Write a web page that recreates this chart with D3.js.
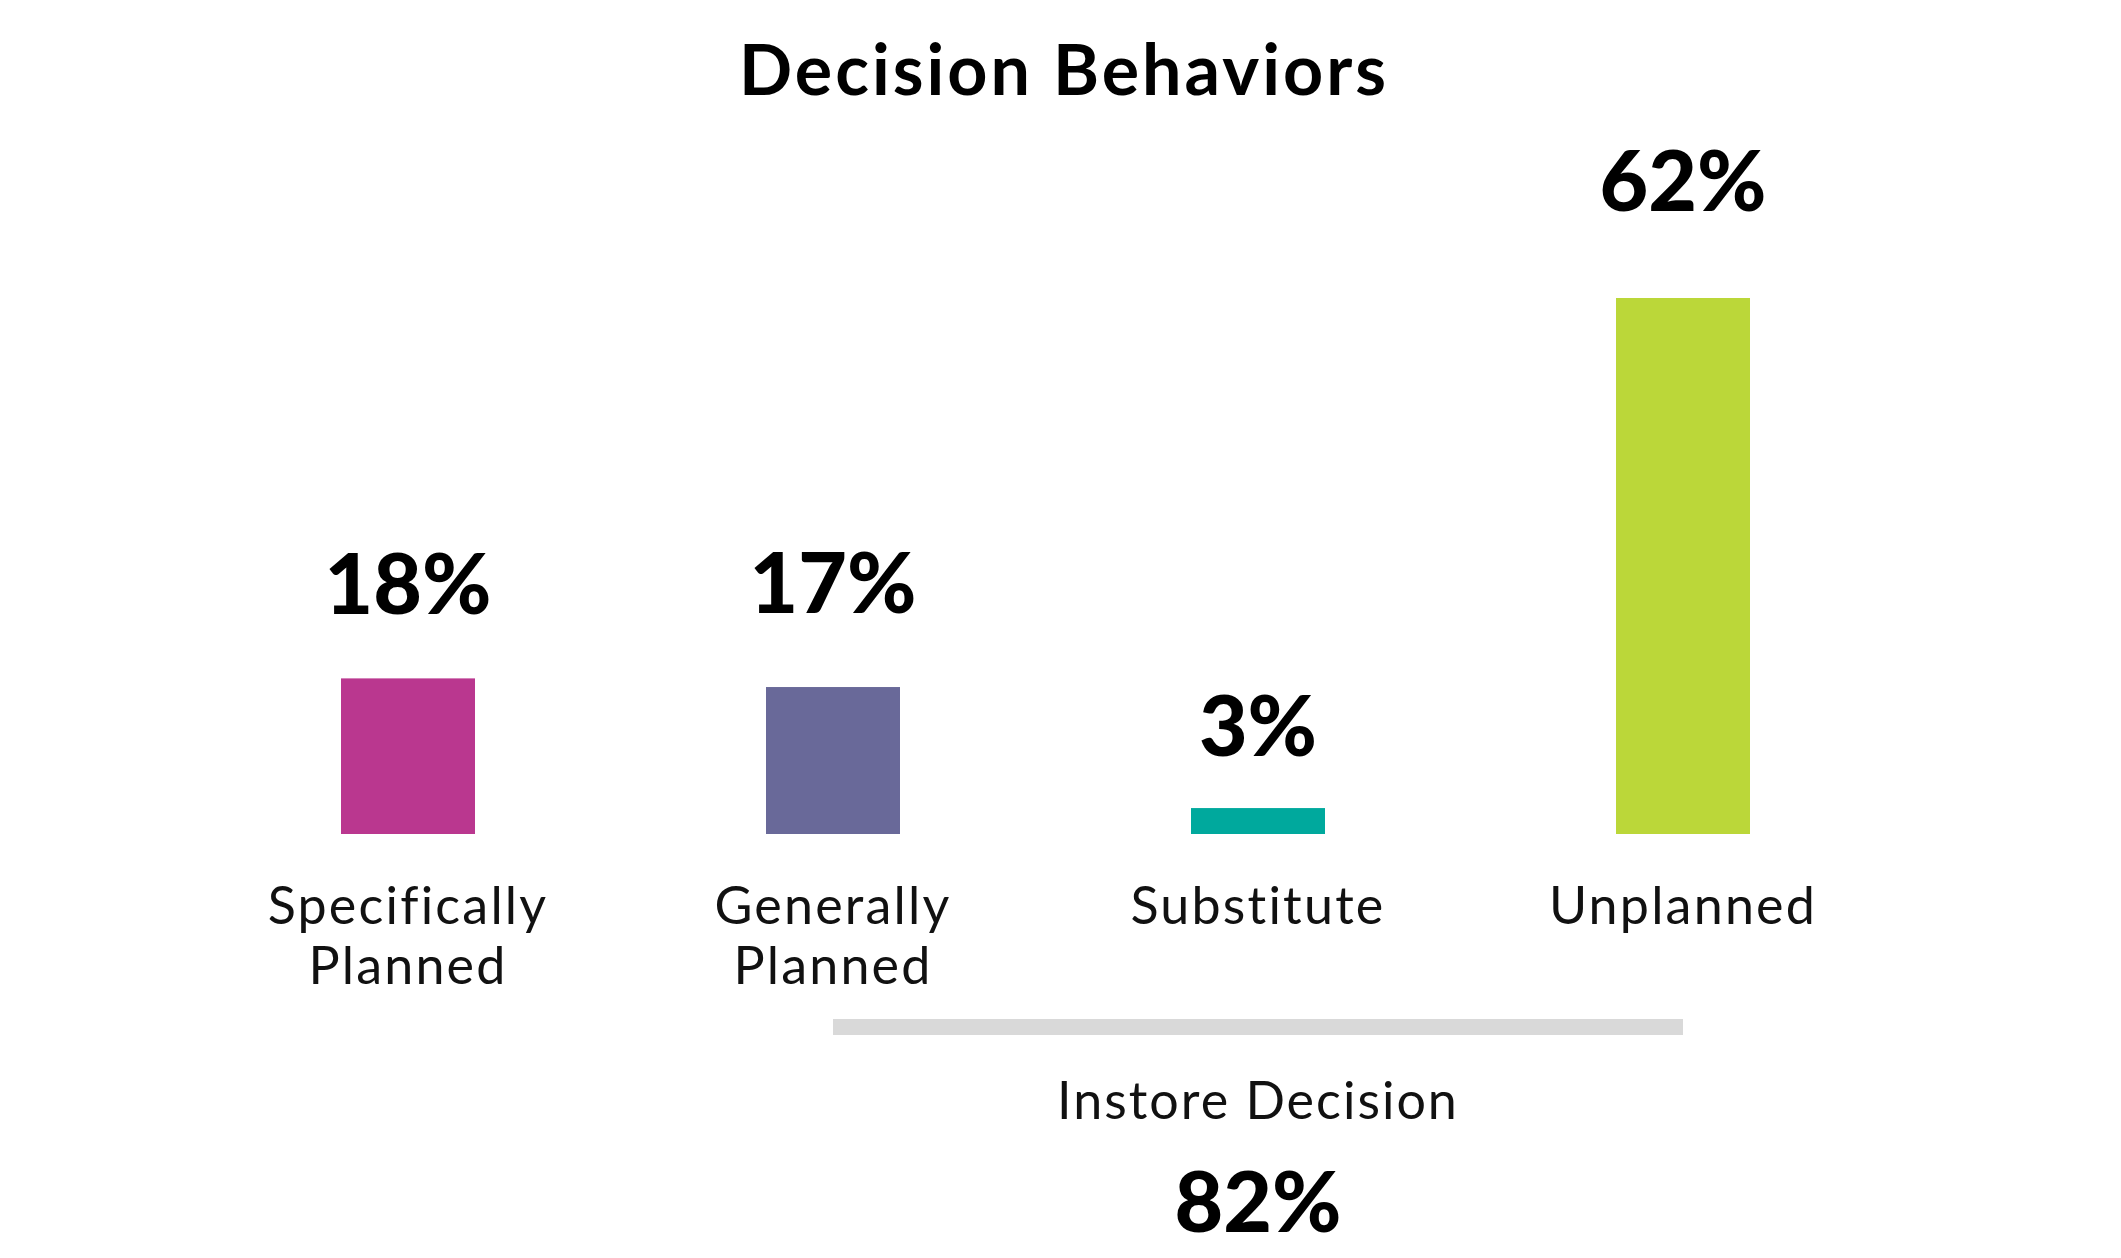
<!DOCTYPE html>
<html>
<head>
<meta charset="utf-8">
<script src="https://cdn.jsdelivr.net/npm/d3@7"></script>
<style>
  html, body { margin: 0; padding: 0; background: #fff; }
</style>
</head>
<body>
<div id="chart"></div>
<script>
// data
const categories = ["Specifically Planned", "Generally Planned", "Substitute", "Unplanned"];
const labelLines = [["Specifically", "Planned"], ["Generally", "Planned"], ["Substitute"], ["Unplanned"]];
const values = [18, 17, 3, 62];
const barColors = ["#BA378F", "#696999", "#00A99D", "#BBD739"];
const groupCategories = ["Generally Planned", "Substitute", "Unplanned"];
const groupLabel = "Instore Decision";
const groupValue = 82;
const title = "Decision Behaviors";

const WIDTH = 2121, HEIGHT = 1258;
const FONT = "Lato, 'Open Sans', sans-serif";
// space between a value label's baseline and the top of its bar
const LABEL_GAP = [64, 74, 52, 87];

const svg = d3.select("#chart")
              .append("svg")
                .attr("width", WIDTH)
                .attr("height", HEIGHT);

// x: bar centres, y: bar heights
const x = d3.scalePoint()
            .domain(categories)
            .range([408, 1683]);
const y = d3.scaleLinear()
            .domain([0, 62])
            .range([834, 298]);
const BAR_W = 134;

svg.append("text")
   .attr("x", 1064)
   .attr("y", 95)
   .attr("text-anchor", "middle")
   .style("font-family", FONT)
   .style("font-weight", 700)
   .style("font-size", "70px")
   .style("letter-spacing", "3px")
   .text(title);

// bars
svg.selectAll("rect.bar")
   .data(values)
   .join("rect")
   .attr("class", "bar")
   .attr("x", (d, i) => x(categories[i]) - BAR_W / 2)
   .attr("y", d => y(d))
   .attr("width", BAR_W)
   .attr("height", d => y(0) - y(d))
   .attr("fill", (d, i) => barColors[i]);

// value labels
svg.selectAll("text.value")
   .data(values)
   .join("text")
   .attr("class", "value")
   .attr("x", (d, i) => x(categories[i]))
   .attr("y", (d, i) => y(d) - LABEL_GAP[i])
   .attr("text-anchor", "middle")
   .style("font-family", FONT)
   .style("font-weight", 900)
   .style("font-size", "84px")
   .text(d => d + "%");

// category labels
const cat = svg.selectAll("text.cat")
   .data(labelLines)
   .join("text")
   .attr("class", "cat")
   .attr("text-anchor", "middle")
   .style("font-family", FONT)
   .style("font-weight", 400)
   .style("font-size", "52px")
   .style("letter-spacing", "2.2px")
   .attr("fill", "#111");
cat.selectAll("tspan")
   .data((d, i) => d.map(t => ({ t, i })))
   .join("tspan")
   .attr("x", d => x(categories[d.i]))
   .attr("y", (d, j) => 924 + j * 60)
   .text(d => d.t);

// instore bracket
const gx0 = x(groupCategories[0]), gx1 = x(groupCategories[groupCategories.length - 1]);
svg.append("rect")
   .attr("x", gx0)
   .attr("y", 1019)
   .attr("width", gx1 - gx0)
   .attr("height", 16)
   .attr("fill", "#D9D9D9");

const gmid = x(groupCategories[1]);
svg.append("text")
   .attr("x", gmid)
   .attr("y", 1119)
   .attr("text-anchor", "middle")
   .style("font-family", FONT)
   .style("font-weight", 400)
   .style("font-size", "52px")
   .style("letter-spacing", "2px")
   .attr("fill", "#111")
   .text(groupLabel);

svg.append("text")
   .attr("x", gmid)
   .attr("y", 1232)
   .attr("text-anchor", "middle")
   .style("font-family", FONT)
   .style("font-weight", 900)
   .style("font-size", "84px")
   .text(groupValue + "%");
</script>
</body>
</html>
